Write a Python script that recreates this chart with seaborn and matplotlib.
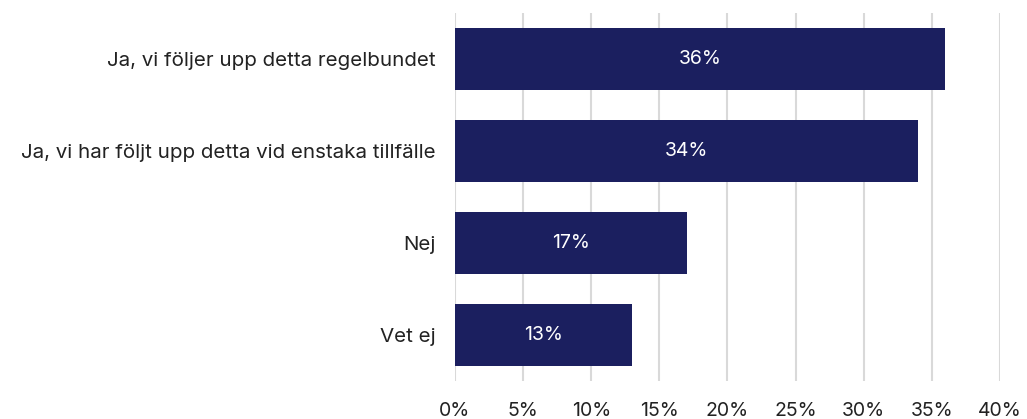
import pandas as pd
import seaborn as sns
import matplotlib.pyplot as plt
from matplotlib.ticker import PercentFormatter

categories = [
    "Ja, vi följer upp detta regelbundet",
    "Ja, vi har följt upp detta vid enstaka tillfälle",
    "Nej",
    "Vet ej",
]
values = [36, 34, 17, 13]
xticks = [0, 5, 10, 15, 20, 25, 30, 35, 40]

df = pd.DataFrame({"Svar": categories, "Andel": values})

sns.set_theme(style="white")
plt.rcParams["font.family"] = ["Inter", "DejaVu Sans"]

fig = plt.figure(figsize=(10.27, 4.19), dpi=100)
ax = fig.add_axes([0.443, 0.091, 0.5307, 0.878])

bar_color = "#1b1f5f"
sns.barplot(data=df, x="Andel", y="Svar", color=bar_color, width=0.67,
            saturation=1, linewidth=0, ax=ax, zorder=3)

for patch, v in zip(ax.patches, values):
    ax.text(patch.get_x() + patch.get_width() / 2,
            patch.get_y() + patch.get_height() / 2,
            f"{v}%", ha="center", va="center", color="white",
            fontsize=14, zorder=4)

ax.set_xlim(0, 40)
ax.set_xticks(xticks)
ax.xaxis.set_major_formatter(PercentFormatter(decimals=0))
ax.grid(axis="x", color="#d9d9d9", linewidth=1.5, zorder=0)
ax.set_axisbelow(True)
for s in ax.spines.values():
    s.set_visible(False)
ax.set_xlabel("")
ax.set_ylabel("")
ax.tick_params(axis="x", length=0, pad=15, labelsize=14, labelcolor="#222222")
ax.tick_params(axis="y", length=0, pad=14, labelsize=14.8, labelcolor="#222222")

fig.savefig("out.png", dpi=100)
